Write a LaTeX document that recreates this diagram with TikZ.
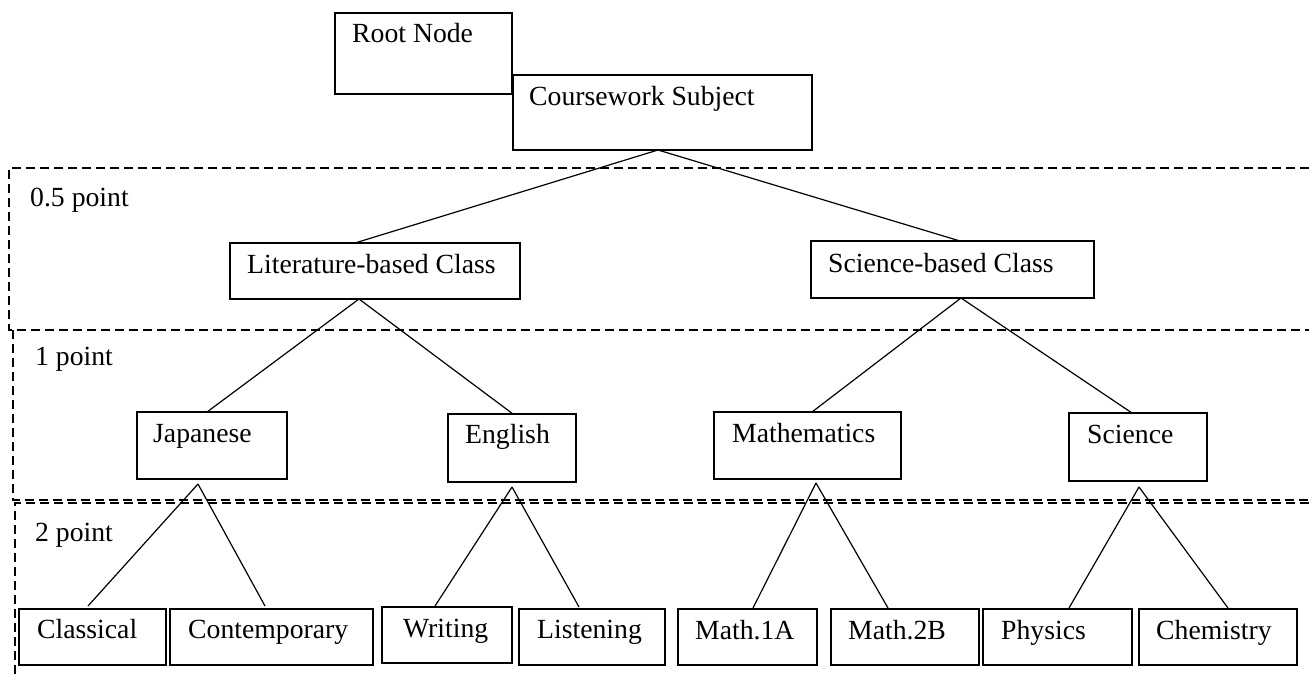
\documentclass[tikz,border=0pt]{standalone}
\usepackage{fontspec}
\setmainfont{Liberation Serif}
\usetikzlibrary{calc}
\begin{document}
\begin{tikzpicture}[x=1pt,y=-1pt,
  box/.style={draw=black, line width=1.3pt, inner sep=0pt, outer sep=0pt, anchor=north west, fill=white},
  lbl/.style={inner sep=0pt, anchor=base west, font=\fontsize{27.7}{33}\selectfont},
  conn/.style={line width=1.2pt},
  dashline/.style={line width=1.2pt, dash pattern=on 9pt off 5pt}]
\useasboundingbox (0,0) rectangle (1309,677);
% dashed level frames
\draw[dashline] (1309,168) -- (9,168) -- (9,330) -- (1309,330);
\draw[dashline] (13,330) -- (13,500) -- (1309,500);
\draw[dashline] (1309,503) -- (15,503) -- (15,677);
% level labels
\node[lbl] (l05) at (30,206) {0.5 point};
\node[lbl] (l1) at (35,365) {1 point};
\node[lbl] (l2) at (35,541) {2 point};
% boxes
\node[box, minimum width=177pt, minimum height=81pt] (root) at (335,13) {};
\node[box, minimum width=299pt, minimum height=75pt] (cw) at (513,75) {};
\node[box, minimum width=290pt, minimum height=56pt] (lit) at (230,243) {};
\node[box, minimum width=283pt, minimum height=57pt] (scb) at (811,241) {};
\node[box, minimum width=150pt, minimum height=67pt] (jap) at (137,412) {};
\node[box, minimum width=128pt, minimum height=68pt] (eng) at (448,414) {};
\node[box, minimum width=187pt, minimum height=67pt] (mat) at (714,412) {};
\node[box, minimum width=138pt, minimum height=68pt] (sci) at (1069,413) {};
\node[box, minimum width=147pt, minimum height=56pt] (cla) at (19,609) {};
\node[box, minimum width=203pt, minimum height=56pt] (con) at (170,609) {};
\node[box, minimum width=130pt, minimum height=56pt] (wri) at (382,607) {};
\node[box, minimum width=146pt, minimum height=56pt] (lis) at (519,609) {};
\node[box, minimum width=139pt, minimum height=56pt] (m1a) at (678,609) {};
\node[box, minimum width=148pt, minimum height=56pt] (m2b) at (831,609) {};
\node[box, minimum width=149pt, minimum height=56pt] (phy) at (983,609) {};
\node[box, minimum width=158pt, minimum height=56pt] (che) at (1139,609) {};
% texts
\node[lbl] (troot) at (352,42.7) {Root Node};
\node[lbl] (tcw) at (529,105) {Coursework Subject};
\node[lbl] (tlit) at (247,273) {Literature-based Class};
\node[lbl] (tscb) at (828,272) {Science-based Class};
\node[lbl] (tjap) at (153,442) {Japanese};
\node[lbl] (teng) at (465,443) {English};
\node[lbl] (tmat) at (732,442) {Mathematics};
\node[lbl] (tsci) at (1087,443) {Science};
\node[lbl] (tcla) at (37,638) {Classical};
\node[lbl] (tcon) at (188,638) {Contemporary};
\node[lbl] (twri) at (403,637) {Writing};
\node[lbl] (tlis) at (537,638) {Listening};
\node[lbl] (tm1a) at (695,639) {Math.1A};
\node[lbl] (tm2b) at (848,639) {Math.2B};
\node[lbl] (tphy) at (1001,639) {Physics};
\node[lbl] (tche) at (1156,639) {Chemistry};
% connectors
\draw[conn] ([xshift=-4.5pt]cw.south) -- ([xshift=-20pt]lit.north);
\draw[conn] ([xshift=-4.5pt]cw.south) -- ([xshift=7.5pt]scb.north);
\draw[conn] ([xshift=-16pt]lit.south) -- ([xshift=-5pt]jap.north);
\draw[conn] ([xshift=-16pt]lit.south) -- ([xshift=1pt]eng.north);
\draw[conn] ([xshift=8.5pt]scb.south) -- ([xshift=4.5pt]mat.north);
\draw[conn] ([xshift=8.5pt]scb.south) -- ([xshift=-6pt]sci.north);
\draw[conn] ([xshift=-14pt,yshift=-5pt]jap.south) -- ([xshift=-4.5pt,yshift=3pt]cla.north);
\draw[conn] ([xshift=-14pt,yshift=-5pt]jap.south) -- ([xshift=-6.5pt,yshift=3pt]con.north);
\draw[conn] ([yshift=-5pt]eng.south) -- ([xshift=-12pt,yshift=1pt]wri.north);
\draw[conn] ([yshift=-5pt]eng.south) -- ([xshift=-13pt,yshift=2pt]lis.north);
\draw[conn] ([xshift=8.5pt,yshift=-4pt]mat.south) -- ([xshift=5.5pt,yshift=1pt]m1a.north);
\draw[conn] ([xshift=8.5pt,yshift=-4pt]mat.south) -- ([xshift=-17pt,yshift=1pt]m2b.north);
\draw[conn] ([xshift=1pt,yshift=-6pt]sci.south) -- ([xshift=11.5pt,yshift=1pt]phy.north);
\draw[conn] ([xshift=1pt,yshift=-6pt]sci.south) -- ([xshift=10pt,yshift=1pt]che.north);
\end{tikzpicture}
\end{document}
